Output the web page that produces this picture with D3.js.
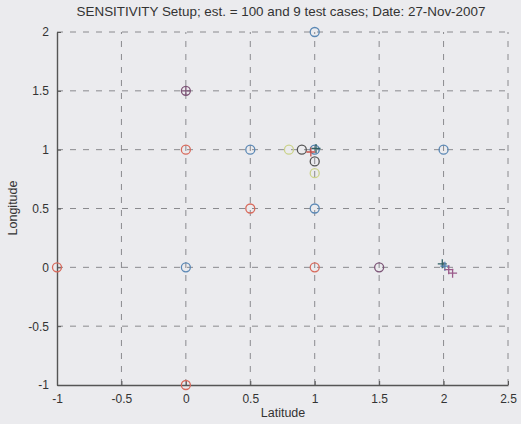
<!DOCTYPE html>
<html>
<head>
<meta charset="utf-8">
<script src="https://cdn.jsdelivr.net/npm/d3@7"></script>
<style>
  html, body { margin: 0; padding: 0; background: #ebebee; }
  svg { display: block; }
  text { font-family: "Liberation Sans", Arial, sans-serif; fill: #333; }
</style>
</head>
<body>
<svg id="chart" width="521" height="424"></svg>
<script>
// Test-case positions drawn as open circles
const circleLat   = [1,   0,   0,   0.5, 0.8, 0.9, 1,   1,   1,   2,   0.5, 1,   -1,  0,   1,   1.5, 0];
const circleLon   = [2,   1.5, 1,   1,   1,   1,   1,   0.9, 0.8, 1,   0.5, 0.5, 0,   0,   0,   0,   -1];
const circleColor = ["#5b88b5", "#7d5577", "#d86a5c", "#5b88b5", "#cbd38a", "#555555", "#4f7fae", "#555555", "#cbd38a",
                     "#5b88b5", "#d86a5c", "#5b88b5", "#d86a5c", "#5b88b5", "#d86a5c", "#7d5577", "#d86a5c"];

// Estimates drawn as plus markers
const plusLat   = [0,   0.97, 1.01, 1.99, 2.01, 2.04, 2.07];
const plusLon   = [1.5, 0.98, 1.01, 0.03, 0.01, -0.02, -0.05];
const plusColor = ["#7d5577", "#c9504a", "#2f5f63", "#2f5f63", "#4f7fae", "#9a5a8a", "#9a5a8a"];

const xTicks = [-1, -0.5, 0, 0.5, 1, 1.5, 2, 2.5];
const yTicks = [-1, -0.5, 0, 0.5, 1, 1.5, 2];

const titleText = "SENSITIVITY Setup; est. = 100 and 9 test cases; Date: 27-Nov-2007";

const svg = d3.select("#chart");
const x = d3.scaleLinear().domain([-1, 2.5]).range([57, 508]);
const y = d3.scaleLinear().domain([-1, 2]).range([385, 32]);

// dashed grid
const grid = svg.append("g").attr("stroke", "#8a8a8e").attr("stroke-width", 1)
  .attr("stroke-dasharray", "6,7");
grid.selectAll("line.v").data(xTicks.filter(d => d > -1)).join("line")
  .attr("x1", d => x(d)).attr("x2", d => x(d))
  .attr("y1", y(-1)).attr("y2", y(2));
grid.selectAll("line.h").data(yTicks.filter(d => d > -1)).join("line")
  .attr("y1", d => y(d)).attr("y2", d => y(d))
  .attr("x1", x(-1)).attr("x2", x(2.5));

// axes (left and bottom only, ticks pointing inward)
const xAxis = d3.axisBottom(x).tickValues(xTicks).tickSizeInner(-4).tickSizeOuter(0)
  .tickPadding(9).tickFormat(d => String(d));
const yAxis = d3.axisLeft(y).tickValues(yTicks).tickSizeInner(-4).tickSizeOuter(0)
  .tickPadding(8).tickFormat(d => String(d));

const gx = svg.append("g").attr("transform", `translate(0,${y(-1)})`).call(xAxis);
const gy = svg.append("g").attr("transform", `translate(${x(-1)},0)`).call(yAxis);
[gx, gy].forEach(g => {
  g.select(".domain").attr("stroke", "#555").attr("stroke-width", 1.4);
  g.selectAll(".tick line").attr("stroke", "#555");
  g.selectAll(".tick text").attr("font-size", 12).attr("fill", "#333")
    .attr("font-family", "'Liberation Sans', Arial, sans-serif");
});

// circles
svg.append("g").selectAll("circle").data(circleLat.map((d, i) => i)).join("circle")
  .attr("cx", i => x(circleLat[i])).attr("cy", i => y(circleLon[i]))
  .attr("r", 4.5).attr("fill", "none")
  .attr("stroke", i => circleColor[i]).attr("stroke-width", 1.3);

// plus markers
svg.append("g").selectAll("path").data(plusLat.map((d, i) => i)).join("path")
  .attr("d", i => {
    const cx = x(plusLat[i]), cy = y(plusLon[i]), s = 4.5;
    return `M${cx - s},${cy}H${cx + s}M${cx},${cy - s}V${cy + s}`;
  })
  .attr("stroke", i => plusColor[i]).attr("stroke-width", 1.3).attr("fill", "none");

// title and labels
svg.append("text").attr("x", 281).attr("y", 16).attr("text-anchor", "middle")
  .attr("font-size", 13.4).text(titleText);
svg.append("text").attr("x", 283).attr("y", 417).attr("text-anchor", "middle")
  .attr("font-size", 12.5).text("Latitude");
svg.append("text").attr("transform", "translate(17,208) rotate(-90)")
  .attr("text-anchor", "middle").attr("font-size", 12.5).text("Longitude");
</script>
</body>
</html>
